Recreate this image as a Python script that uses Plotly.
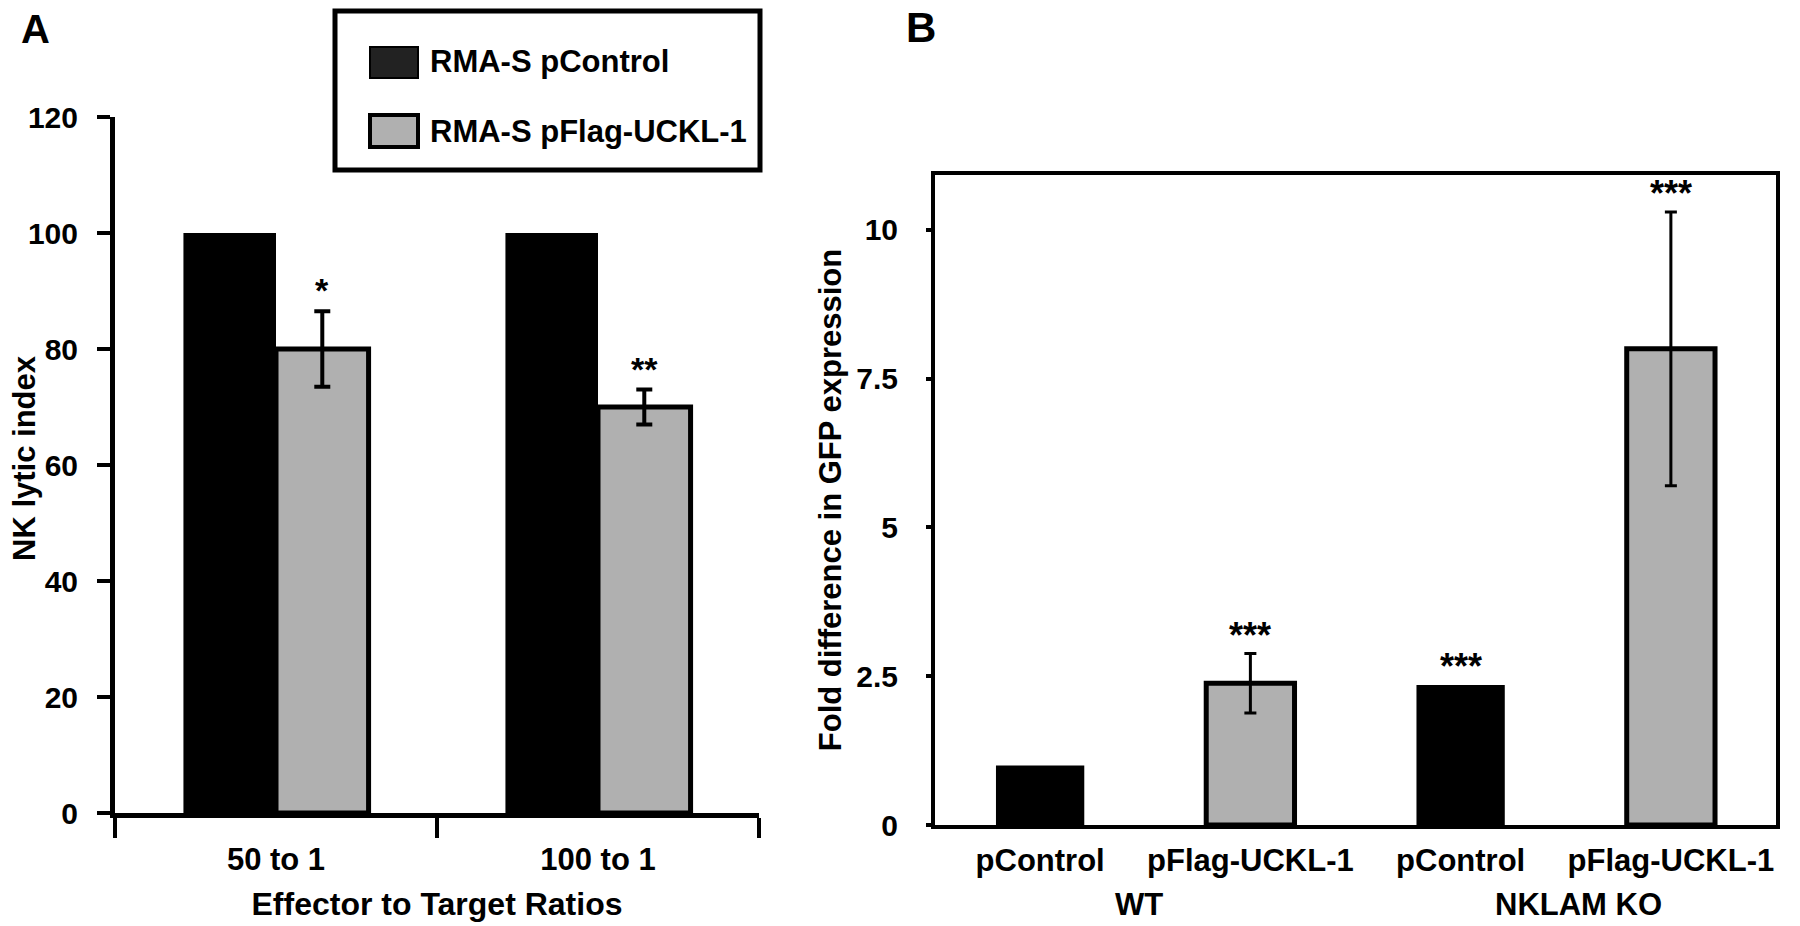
import plotly.graph_objects as go

# ---------------- Panel A data ----------------
a_categories = ["50 to 1", "100 to 1"]
a_series_names = ["RMA-S pControl", "RMA-S pFlag-UCKL-1"]
a_control = [100, 100]
a_flag = [80, 70]
a_flag_err = [6.5, 3.0]
a_flag_sig = ["*", "**"]
a_yticks = [0, 20, 40, 60, 80, 100, 120]
a_title_x = "Effector to Target Ratios"
a_title_y = "NK lytic index"

# ---------------- Panel B data ----------------
b_labels = ["pControl", "pFlag-UCKL-1", "pControl", "pFlag-UCKL-1"]
b_groups = ["WT", "NKLAM KO"]
b_group_pos = [0.47, 2.56]
b_values = [1.0, 2.38, 2.35, 8.0]
b_err = [0.0, 0.5, 0.0, 2.3]
b_sig = ["", "***", "***", "***"]
b_is_flag = [False, True, False, True]
b_yticks = [0, 2.5, 5, 7.5, 10]
b_title_y = "Fold difference in GFP expression"

BLACK = "#000000"
GRAY = "#b0b0b0"
FONT = "Arial, Liberation Sans, Helvetica, sans-serif"
W, H = 1800, 926


def px_x(v):
    return v / W


def px_y(v):
    return (H - v) / H


fig = go.Figure()

# Panel A bars
fig.add_trace(go.Bar(
    x=a_categories, y=a_control, name=a_series_names[0],
    marker=dict(color=BLACK, line=dict(width=0)),
    xaxis="x", yaxis="y", showlegend=False,
))
fig.add_trace(go.Bar(
    x=a_categories, y=a_flag, name=a_series_names[1],
    marker=dict(color=GRAY, line=dict(color=BLACK, width=5)),
    error_y=dict(type="data", array=a_flag_err, visible=True,
                 color=BLACK, thickness=4, width=8),
    xaxis="x", yaxis="y", showlegend=False,
))

# Panel B bars
idx = list(range(len(b_labels)))
ctrl_x = [i for i in idx if not b_is_flag[i]]
flag_x = [i for i in idx if b_is_flag[i]]
fig.add_trace(go.Bar(
    x=ctrl_x, y=[b_values[i] for i in ctrl_x],
    width=0.42, offset=-0.21,
    marker=dict(color=BLACK, line=dict(width=0)),
    xaxis="x2", yaxis="y2", showlegend=False, name="pControl",
))
fig.add_trace(go.Bar(
    x=flag_x, y=[b_values[i] for i in flag_x],
    width=0.42, offset=-0.21,
    marker=dict(color=GRAY, line=dict(color=BLACK, width=5)),
    error_y=dict(type="data", array=[b_err[i] for i in flag_x], visible=True,
                 color=BLACK, thickness=3, width=6),
    xaxis="x2", yaxis="y2", showlegend=False, name="pFlag-UCKL-1",
))

annotations = []
# Significance stars panel A
for c, v, e, s in zip(a_categories, a_flag, a_flag_err, a_flag_sig):
    annotations.append(dict(x=c, y=v + e, xref="x", yref="y", text=s,
                            showarrow=False, yanchor="bottom", xshift=46,
                            yshift=0, font=dict(size=34, family=FONT, color=BLACK, weight="bold")))
# Significance stars panel B
for i in idx:
    if b_sig[i]:
        annotations.append(dict(x=i, y=b_values[i] + b_err[i], xref="x2", yref="y2",
                                text=b_sig[i], showarrow=False, yanchor="bottom",
                                yshift=-4,
                                font=dict(size=36, family=FONT, color=BLACK, weight="bold")))
# Group labels panel B
for g, gp in zip(b_groups, b_group_pos):
    annotations.append(dict(x=gp, y=px_y(904), xref="x2", yref="paper", text=g,
                            showarrow=False, yanchor="middle",
                            font=dict(size=31, family=FONT, color=BLACK, weight="bold")))
# Y title of panel A (placed as rotated text)
annotations.append(dict(x=px_x(24), y=px_y(458), xref="paper", yref="paper",
                        text=a_title_y, textangle=-90, showarrow=False,
                        xanchor="center", yanchor="middle",
                        font=dict(size=31, family=FONT, color=BLACK, weight="bold")))
# Panel letters
annotations.append(dict(x=px_x(35), y=px_y(29), xref="paper", yref="paper", text="A",
                        showarrow=False, xanchor="center", yanchor="middle",
                        font=dict(size=40, family=FONT, color=BLACK, weight="bold")))
annotations.append(dict(x=px_x(921), y=px_y(28), xref="paper", yref="paper", text="B",
                        showarrow=False, xanchor="center", yanchor="middle",
                        font=dict(size=42, family=FONT, color=BLACK, weight="bold")))

# Custom legend (panel A)
shapes = [
    dict(type="rect", xref="paper", yref="paper",
         x0=px_x(335), x1=px_x(760), y0=px_y(170), y1=px_y(11),
         line=dict(color=BLACK, width=5), fillcolor="white"),
    dict(type="rect", xref="paper", yref="paper",
         x0=px_x(370), x1=px_x(418), y0=px_y(78), y1=px_y(47),
         line=dict(color=BLACK, width=2), fillcolor="#222222"),
    dict(type="rect", xref="paper", yref="paper",
         x0=px_x(370), x1=px_x(418), y0=px_y(147), y1=px_y(115),
         line=dict(color=BLACK, width=4), fillcolor=GRAY),
]
for name, yc in zip(a_series_names, [62, 131]):
    annotations.append(dict(x=px_x(428), y=px_y(yc), xref="paper", yref="paper",
                            text=name, showarrow=False, xanchor="left", yanchor="middle",
                            font=dict(size=31, family=FONT, color=BLACK, weight="bold")))

tick_font_a_y = dict(size=30, family=FONT, color=BLACK, weight="bold")
tick_font_a_x = dict(size=31, family=FONT, color=BLACK, weight="bold")
tick_font_b_x = dict(size=31, family=FONT, color=BLACK, weight="bold")
tick_font_b_y = dict(size=30, family=FONT, color=BLACK, weight="bold")
title_font = dict(size=31, family=FONT, color=BLACK, weight="bold")
title_font_x = dict(size=32, family=FONT, color=BLACK, weight="bold")

fig.update_layout(
    width=W, height=H,
    margin=dict(l=0, r=0, t=0, b=0, pad=0),
    paper_bgcolor="white", plot_bgcolor="white",
    barmode="group", bargap=0.425, bargroupgap=0,
    showlegend=False,
    xaxis=dict(domain=[px_x(115), px_x(759)], type="category", automargin=False,
               showline=True, linecolor=BLACK, linewidth=5,
               ticks="outside", tickson="boundaries", ticklen=20, tickwidth=4,
               tickcolor=BLACK, tickfont=tick_font_a_x, showgrid=False,
               ticklabelstandoff=15,
               title=dict(text=a_title_x, font=title_font_x, standoff=18),
               anchor="y"),
    yaxis=dict(domain=[px_y(813), px_y(117)], range=[0, 120], automargin=False,
               tickvals=a_yticks, showline=True, linecolor=BLACK, linewidth=5,
               ticks="outside", ticklen=13, tickwidth=4, tickcolor=BLACK,
               tickfont=tick_font_a_y, showgrid=False, zeroline=False,
               ticklabelstandoff=13,
               anchor="x"),
    xaxis2=dict(domain=[px_x(935), px_x(1776)], range=[-0.5, 3.5], automargin=False,
                tickvals=idx, ticktext=b_labels, showline=True, mirror=True,
                linecolor=BLACK, linewidth=4, ticks="", tickfont=tick_font_b_x,
                ticklabelstandoff=5,
                showgrid=False, zeroline=False, anchor="y2"),
    yaxis2=dict(domain=[px_y(825), px_y(175)], range=[0, 10.92], automargin=False,
                tickvals=b_yticks, showline=True, mirror=True,
                linecolor=BLACK, linewidth=4, ticks="outside", ticklen=5,
                tickwidth=4, tickcolor=BLACK, tickfont=tick_font_b_y,
                ticklabelstandoff=22,
                showgrid=False, zeroline=False,
                title=dict(text=b_title_y, font=title_font, standoff=6),
                anchor="x2"),
    annotations=annotations,
    shapes=shapes,
)

fig.write_html("out.html", config={"displayModeBar": False},
               post_script="document.body.style.margin='0px';")
